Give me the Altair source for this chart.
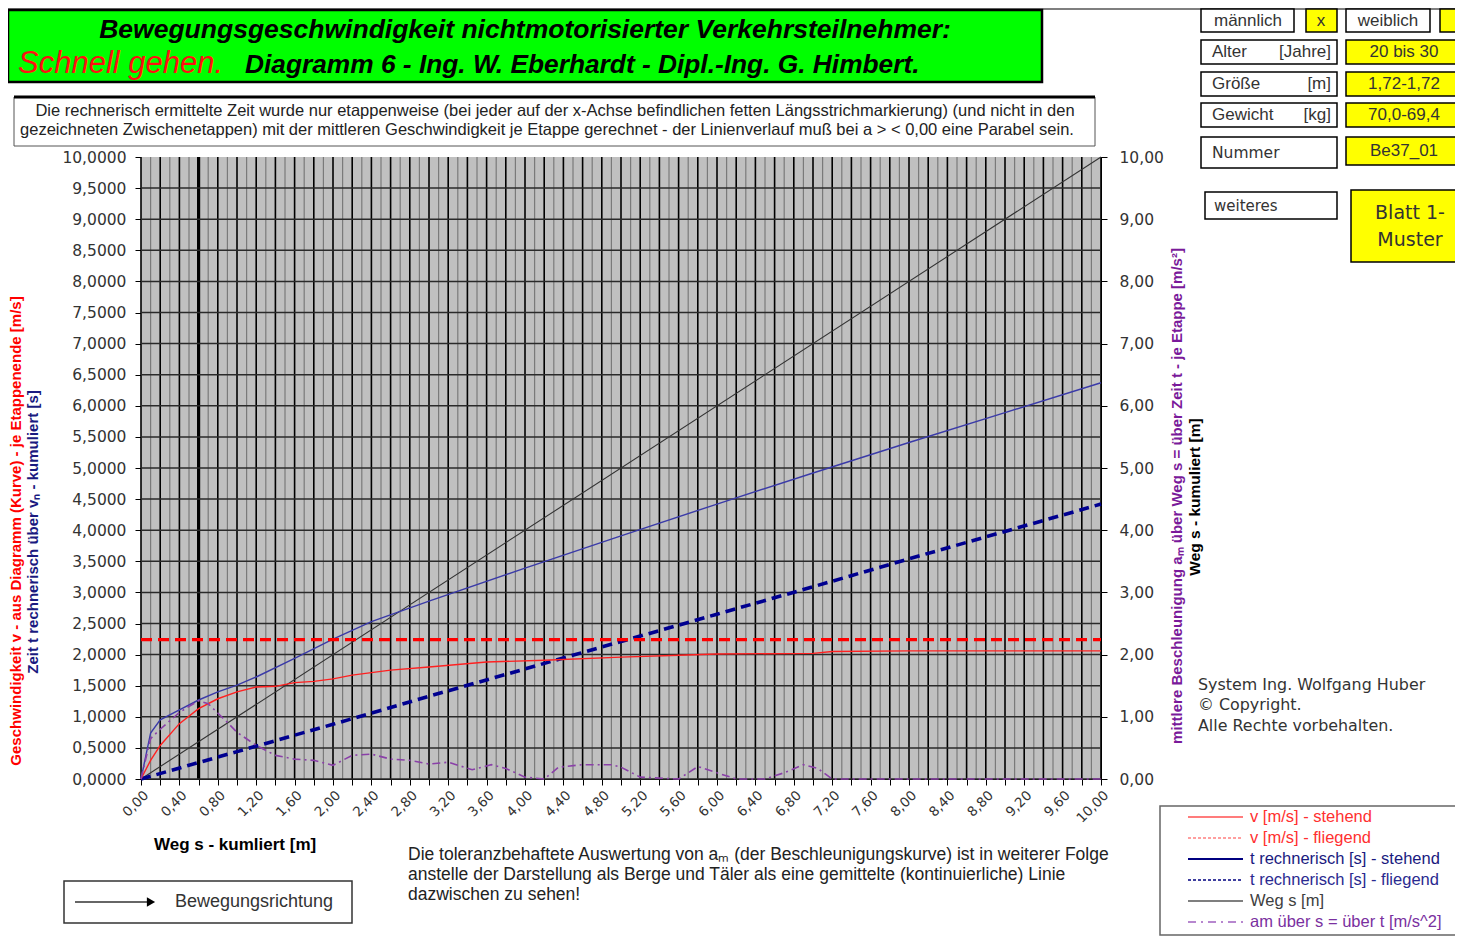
import altair as alt
import pandas as pd

# ---------------- data ----------------
s_v_st = [0.0, 0.1, 0.2, 0.4, 0.6, 0.8, 1.0, 1.2, 1.4, 1.6, 1.8, 2.0, 2.2, 2.6, 3.0, 3.6, 4.2, 5.0, 5.6, 6.0, 7.0, 7.2, 8.0, 9.0, 10.0]
v_st = [0.0, 0.30, 0.54, 0.89, 1.13, 1.29, 1.40, 1.48, 1.49, 1.55, 1.57, 1.61, 1.67, 1.75, 1.80, 1.88, 1.91, 1.96, 1.99, 2.01, 2.02, 2.05, 2.06, 2.06, 2.06]

s_v_fl = [0.0, 10.0]
v_fl = [2.24, 2.24]

s_t_st = [0.0, 0.1, 0.2, 0.4, 0.6, 0.8, 1.0, 1.2, 1.6, 2.0, 2.4, 3.0, 4.0, 5.0, 6.0, 7.0, 8.0, 9.0, 10.0]
t_st = [0.0, 0.74, 0.95, 1.11, 1.27, 1.40, 1.51, 1.64, 1.94, 2.25, 2.53, 2.86, 3.39, 3.91, 4.42, 4.92, 5.41, 5.89, 6.37]

s_t_fl = [0.0, 1.0, 2.0, 3.0, 4.0, 5.0, 6.0, 7.0, 8.0, 9.0, 10.0]
t_fl = [0.0, 0.44, 0.88, 1.33, 1.77, 2.21, 2.65, 3.09, 3.54, 3.98, 4.42]

s_weg = [0.0, 10.0]
weg = [0.0, 10.0]

s_am = [0.0, 0.1, 0.2, 0.4, 0.6, 0.7, 0.9, 1.0, 1.2, 1.4, 1.6, 1.8, 2.0, 2.2, 2.4, 2.6, 2.8, 3.0, 3.2,
        3.45, 3.65, 3.8, 4.0, 4.2, 4.35, 4.6, 4.9, 5.0, 5.2, 5.6, 5.8, 6.0, 6.2, 6.5, 6.7, 6.9, 7.05, 7.2, 10.0]
am = [0.0, 0.65, 0.80, 1.07, 1.26, 1.21, 0.91, 0.75, 0.54, 0.38, 0.32, 0.30, 0.22, 0.38, 0.40, 0.32, 0.30, 0.24, 0.27,
      0.15, 0.23, 0.17, 0.03, 0.0, 0.19, 0.23, 0.23, 0.19, 0.03, 0.0, 0.20, 0.10, 0.0, 0.0, 0.10, 0.23, 0.17, 0.0, 0.0]

# grid / tick positions
x_major = [round(0.2 * i, 1) for i in range(51)]
x_minor = [round(0.1 * i, 1) for i in range(1, 100, 2)]
x_thick = [0.6]
y_grid = [0.5 * i for i in range(20)]
left_ticks = [0.5 * i for i in range(21)]
right_ticks = [float(i) for i in range(11)]

legend_labels = ["v [m/s] - stehend", "v [m/s] - fliegend", "t rechnerisch [s] - stehend",
                 "t rechnerisch [s] - fliegend", "Weg s [m]", "am über s = über t [m/s^2]"]

# ---------------- helpers ----------------
OX, OY = 141, 157          # page position of plot origin
W, H = 960, 622
one = alt.Data(values=[{"a": 1}])


def px(x):
    return x - OX


def py(y):
    return y - OY


def box(x1, y1, x2, y2, fill="white", stroke="black", sw=1.5):
    return alt.Chart(one).mark_rect(fill=fill, stroke=stroke, strokeWidth=sw).encode(
        x=alt.value(px(x1)), x2=alt.value(px(x2)), y=alt.value(py(y1)), y2=alt.value(py(y2)))


def txt(x, y, s, size=14, color="#222", font="Liberation Sans", weight="normal", style="normal",
        align="left", angle=0):
    kw = dict(align=align, baseline="middle", font=font, fontSize=size, color=color,
              fontWeight=weight, fontStyle=style)
    if angle:
        kw["angle"] = angle
    return alt.Chart(one).mark_text(**kw).encode(
        x=alt.value(px(x)), y=alt.value(py(y)), text=alt.value(s))


def hline(x1, x2, y, color, width, dash=None):
    kw = dict(color=color, strokeWidth=width)
    if dash:
        kw["strokeDash"] = dash
    return alt.Chart(one).mark_rule(**kw).encode(
        x=alt.value(px(x1)), x2=alt.value(px(x2)), y=alt.value(py(y)))


xs = alt.Scale(domain=[0, 10], nice=False, zero=False)


def ys():
    return alt.Scale(domain=[0, 10], nice=False, zero=False)


x_axis = alt.Axis(orient="bottom", values=x_major, grid=False, tickSize=6, tickColor="black",
                  domainColor="black", labelAngle=-45, labelFontSize=13.5, labelPadding=3,
                  labelOverlap=False, labelFlush=False, labelFont="DejaVu Sans", labelColor="#333333",
                  labelExpr="(round(datum.value*10) % 4 == 0) ? replace(format(datum.value,'.2f'),'.',',') : ''",
                  title=None)
left_axis = alt.Axis(orient="left", values=left_ticks, grid=False, tickSize=6, tickColor="black",
                     domainColor="black", labelFontSize=15.5, labelPadding=9, labelFont="DejaVu Sans",
                     labelColor="#333333",
                     labelExpr="replace(format(datum.value,'.4f'),'.',',')", title=None)
right_axis = alt.Axis(orient="right", values=right_ticks, grid=False, tickSize=6, tickColor="black",
                      domainColor="black", labelFontSize=15.5, labelPadding=12, labelFont="DejaVu Sans",
                      labelColor="#333333",
                      labelExpr="replace(format(datum.value,'.2f'),'.',',')", title=None)

# ---------------- plot background and grid ----------------
bg = alt.Chart(one).mark_rect(fill="#c0c0c0", strokeWidth=0).encode(
    x=alt.value(0), x2=alt.value(W), y=alt.value(0), y2=alt.value(H))

df_xminor = pd.DataFrame({"s": x_minor})
df_xmajor = pd.DataFrame({"s": x_major})
df_xthick = pd.DataFrame({"s": x_thick})
df_ygrid = pd.DataFrame({"v": y_grid})

g_minor = alt.Chart(df_xminor).mark_rule(color="#7a7a7a", strokeWidth=1.2).encode(
    x=alt.X("s:Q", scale=xs, axis=x_axis))
g_major = alt.Chart(df_xmajor).mark_rule(color="#000000", strokeWidth=1.6).encode(
    x=alt.X("s:Q", scale=xs, axis=x_axis))
g_thick = alt.Chart(df_xthick).mark_rule(color="#000000", strokeWidth=3.2).encode(
    x=alt.X("s:Q", scale=xs, axis=x_axis))
g_h = alt.Chart(df_ygrid).mark_rule(color="#2a2a2a", strokeWidth=1.5).encode(
    y=alt.Y("v:Q", scale=ys(), axis=left_axis))


def series(sv, vv, color, width, dash=None, axis=None):
    kw = dict(color=color, strokeWidth=width)
    if dash:
        kw["strokeDash"] = dash
    df = pd.DataFrame({"s": sv, "v": vv})
    return alt.Chart(df).mark_line(**kw).encode(
        x=alt.X("s:Q", scale=xs, axis=x_axis),
        y=alt.Y("v:Q", scale=ys(), axis=axis))


l_weg = series(s_weg, weg, "#333333", 1.1, axis=right_axis)
l_tst = series(s_t_st, t_st, "#3a3aa8", 1.4)
l_tfl = series(s_t_fl, t_fl, "#000090", 3.6, dash=[10, 6])
l_vst = series(s_v_st, v_st, "#ff2020", 1.4)
l_vfl = series(s_v_fl, v_fl, "#ff0000", 3.2, dash=[11, 6])
l_am = series(s_am, am, "#8a40a8", 1.6, dash=[8, 4, 2, 4])

# ---------------- decorations ----------------
deco = []
deco.append(hline(8, 1455, 9, "#555555", 1.5))
# title box
deco.append(box(8, 10, 1042, 82, fill="#00ff00", stroke="black", sw=2.5))
deco.append(txt(525, 30, "Bewegungsgeschwindigkeit nichtmotorisierter Verkehrsteilnehmer:", size=26.5,
                color="black", weight="bold", style="italic", align="center"))
deco.append(txt(18, 64, "Schnell gehen.", size=31, color="#ff1010", style="italic"))
deco.append(txt(245, 65, "Diagramm 6 - Ing. W. Eberhardt - Dipl.-Ing. G. Himbert.", size=26.3,
                color="black", weight="bold", style="italic"))
# note box
deco.append(box(14, 97, 1095, 146, fill="white", stroke="#555555", sw=1))
deco.append(hline(14, 1095, 97, "black", 3))
deco.append(txt(555, 111, "Die rechnerisch ermittelte Zeit wurde nur etappenweise (bei jeder auf der x-Achse befindlichen fetten Längsstrichmarkierung)  (und nicht in den",
                size=16.5, color="#222", align="center"))
deco.append(txt(547, 130, "gezeichneten Zwischenetappen) mit der mittleren Geschwindigkeit je Etappe gerechnet - der Linienverlauf muß bei a > < 0,00 eine Parabel sein.",
                size=16.5, color="#222", align="center"))

# info boxes (right top)
YEL = "#ffff00"
FS = 17
deco.append(box(1201, 9, 1294, 32))
deco.append(txt(1248, 21, "männlich", size=FS, color="#333", align="center"))
deco.append(box(1306, 9, 1337, 32, fill=YEL))
deco.append(txt(1321, 21, "x", size=FS, color="#333", align="center"))
deco.append(box(1346, 9, 1430, 32))
deco.append(txt(1388, 21, "weiblich", size=FS, color="#333", align="center"))
deco.append(box(1440, 9, 1470, 32, fill=YEL))

rows = [(40, 64, "Alter", "[Jahre]", "20 bis 30"),
        (72, 96, "Größe", "[m]", "1,72-1,72"),
        (103, 127, "Gewicht", "[kg]", "70,0-69,4")]
for (a, b, lab, unit, val) in rows:
    deco.append(box(1201, a, 1337, b))
    deco.append(txt(1212, (a + b) / 2, lab, size=FS, color="#333"))
    deco.append(txt(1331, (a + b) / 2, unit, size=FS, color="#333", align="right"))
    deco.append(box(1346, a, 1462, b, fill=YEL))
    deco.append(txt(1404, (a + b) / 2, val, size=FS, color="#333", align="center"))

deco.append(box(1201, 137, 1337, 168))
deco.append(txt(1212, 153, "Nummer", size=15.5, color="#333", font="DejaVu Sans"))
deco.append(box(1346, 137, 1462, 165, fill=YEL))
deco.append(txt(1404, 151, "Be37_01", size=FS, color="#333", align="center"))

deco.append(box(1205, 192, 1337, 219))
deco.append(txt(1214, 206, "weiteres", size=15, color="#333", font="DejaVu Sans"))
deco.append(box(1351, 190, 1470, 262, fill=YEL))
deco.append(txt(1410, 213, "Blatt 1-", size=19, color="#333", font="DejaVu Sans", align="center"))
deco.append(txt(1410, 240, "Muster", size=19, color="#333", font="DejaVu Sans", align="center"))

# copyright
deco.append(txt(1198, 685, "System Ing. Wolfgang Huber", size=15.9, color="#333", font="DejaVu Sans"))
deco.append(txt(1198, 705, "© Copyright.", size=15.9, color="#333", font="DejaVu Sans"))
deco.append(txt(1198, 726, "Alle Rechte vorbehalten.", size=15.9, color="#333", font="DejaVu Sans"))

# axis titles
deco.append(txt(16, 531, "Geschwindigkeit v - aus Diagramm (Kurve) - je Etappenende [m/s]", size=15,
                color="#ff0000", weight="bold", align="center", angle=270))
deco.append(txt(33, 532, "Zeit t rechnerisch über vₙ - kumuliert [s]", size=15,
                color="#1a1a80", weight="bold", align="center", angle=270))
deco.append(txt(1177, 496, "mittlere Beschleunigung aₘ über Weg s = über Zeit t - je Etappe [m/s²]", size=15,
                color="#7a1a9a", weight="bold", align="center", angle=270))
deco.append(txt(1195, 497, "Weg s - kumuliert [m]", size=15.5,
                color="black", weight="bold", align="center", angle=270))
deco.append(txt(154, 845, "Weg s - kumliert [m]", size=17, color="black", weight="bold"))

# bottom note
deco.append(txt(408, 855, "Die toleranzbehaftete Auswertung von aₘ (der Beschleunigungskurve) ist in weiterer Folge",
                size=17.5, color="#222"))
deco.append(txt(408, 875, "anstelle der Darstellung als Berge und Täler als eine gemittelte (kontinuierliche) Linie",
                size=17.5, color="#222"))
deco.append(txt(408, 895, "dazwischen zu sehen!", size=17.5, color="#222"))

# direction box
deco.append(box(64, 881, 352, 923, stroke="#333", sw=1.5))
deco.append(hline(75, 150, 902, "#333", 1.3))
deco.append(alt.Chart(one).mark_point(shape="triangle-right", filled=True, color="black", size=90, opacity=1).encode(
    x=alt.value(px(151)), y=alt.value(py(902))))
deco.append(txt(175, 902, "Bewegungsrichtung", size=18, color="#333"))

# legend
deco.append(box(1160, 806, 1470, 935, stroke="#666", sw=1.5))
leg_y = [817, 838, 859, 880, 901, 922]
leg_line = [("#ff5050", 1.5, None), ("#ff8080", 1.3, [3, 2]), ("#000080", 2, None),
            ("#000080", 1.6, [3, 2]), ("#555555", 1.3, None), ("#a060c0", 1.3, [8, 5, 2, 5])]
leg_col = ["#ff3030", "#ff3030", "#1a1a80", "#2a2a90", "#404040", "#7a30a0"]
for yy, (c, w, d), tc, lab in zip(leg_y, leg_line, leg_col, legend_labels):
    deco.append(hline(1188, 1243, yy, c, w, d))
    deco.append(txt(1250, yy, lab, size=16.5, color=tc))

chart = alt.layer(
    bg, g_minor, g_major, g_thick, g_h,
    l_weg, l_tst, l_tfl, l_vst, l_vfl, l_am,
    *deco
).resolve_scale(y="independent").properties(
    width=W, height=H,
    autosize=alt.AutoSizeParams(type="none"),
    padding={"left": 133, "top": 149, "right": 354, "bottom": 159},
).configure_view(strokeWidth=0).configure(background="white")

chart.save("out.html", embed_options={"renderer": "svg", "actions": False})
